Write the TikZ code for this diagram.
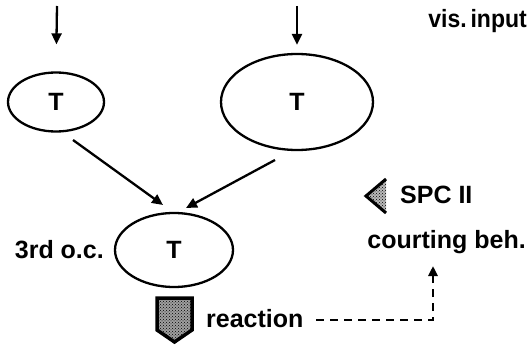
\documentclass[tikz,border=0pt]{standalone}
\usepackage{fontspec}
\setmainfont{Liberation Sans}
\usetikzlibrary{shapes.geometric,arrows.meta,patterns}
\begin{document}
\begin{tikzpicture}[x=1pt,y=-1pt,
  lw/.style={line width=2.3pt},
  oval/.style={ellipse,draw,lw,inner sep=0pt,font=\fontsize{25}{27}\selectfont\bfseries},
  lbl/.style={inner sep=0pt,font=\fontsize{25}{27}\selectfont\bfseries},
  arr/.style={lw,-{Triangle[length=11pt,width=10pt]}},
  darr/.style={line width=2.8pt,dash pattern=on 8pt off 6pt,-{Triangle[length=10pt,width=9pt]}}]
\useasboundingbox (0,0) rectangle (531,345);
% ovals
\node[oval,minimum width=96pt,minimum height=59pt] (e1) at (56,102) {T};
\node[oval,minimum width=152pt,minimum height=96pt] (e2) at (297,102) {T};
\node[oval,minimum width=118pt,minimum height=74pt] (e3) at (174,250) {T};
% labels
\node[lbl,anchor=base east] (vis) at (527,28) {\scalebox{0.92}[1]{vis.\,input}};
\node[lbl,anchor=base east] (oc) at (104,258) {3rd o.c.};
\node[lbl,anchor=base west] (spc) at (400,204) {SPC II};
\node[lbl,anchor=base east] (court) at (526,248) {courting beh.};
\node[lbl,anchor=base west] (react) at (206,327) {reaction};
% input arrows
\coordinate (in1) at (57,6);
\coordinate (in2) at (297,6);
\draw[arr,shorten >=27pt] (in1) -- (e1.north);
\draw[arr,shorten >=8pt] (in2) -- (e2.north);
% converging arrows
\coordinate (d1s) at (73,140);
\coordinate (d1e) at (163,205);
\coordinate (d2s) at (275,160);
\coordinate (d2e) at (186,208);
\draw[arr] (d1s) -- (d1e);
\draw[arr] (d2s) -- (d2e);
% reaction symbol
\fill[gray!75] (157,298) -- (192,298) -- (192,330) -- (174.5,342) -- (157,330) -- cycle;
\fill[pattern=crosshatch dots,pattern color=black] (157,298) -- (192,298) -- (192,330) -- (174.5,342) -- (157,330) -- cycle;
\draw[line width=3.5pt,line join=miter] (157,298) -- (192,298) -- (192,330) -- (174.5,342) -- (157,330) -- cycle;
% SPC symbol
\fill[gray!55] (366,196) -- (386,179) -- (386,213) -- cycle;
\fill[pattern=crosshatch dots,pattern color=black] (366,196) -- (386,179) -- (386,213) -- cycle;
\draw[line width=3pt,line join=miter] (386,179) -- (366,196) -- (386,213);
% dashed feedback
\coordinate (dstart) at (316,320);
\coordinate (dtip) at (433,266);
\draw[darr] (dstart) -| (dtip);
\end{tikzpicture}
\end{document}
